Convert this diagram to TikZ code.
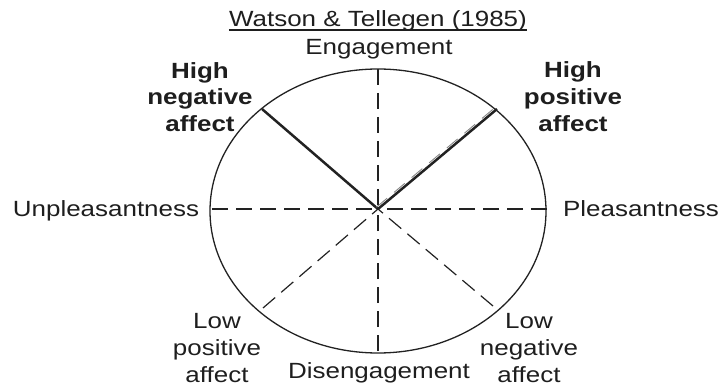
\documentclass[tikz,border=0pt]{standalone}
\usepackage{fontspec}
\setmainfont{Liberation Sans}[FakeStretch=1.18]
\definecolor{txt}{HTML}{1E1E1E}
\definecolor{ln}{HTML}{222222}
\begin{document}
\begin{tikzpicture}[x=1pt,y=-1pt,
  lbl/.style={inner sep=0pt, anchor=base, text=txt, font=\fontsize{22}{26}\selectfont},
  blbl/.style={lbl, font=\fontsize{22}{26}\selectfont\bfseries},
  axis/.style={draw=ln, line width=1.2pt, dash pattern=on 16pt off 8pt},
  solidax/.style={draw=ln, line width=2.5pt},
  rim/.style={draw=ln, line width=1.3pt}]
\useasboundingbox (0,0) rectangle (720,390);
% geometry
\coordinate (o) at (378,211);
\coordinate (c) at (378,209);
\coordinate (top) at (378,69);
\coordinate (bot) at (378,351);
\coordinate (lft) at (212,209);
\coordinate (rgt) at (547,209);
\coordinate (hn) at (262,109);
\coordinate (hp) at (497,109);
\coordinate (lp) at (263,308);
\coordinate (ln) at (493,306);
% ellipse
\draw[rim] (o) ellipse [x radius=168, y radius=142];
% dashed axes
\draw[axis] (top) -- (c);
\draw[axis] (bot) -- (c);
\draw[axis] (lft) -- (c);
\draw[axis] (rgt) -- (c);
\draw[axis] (lp) -- (c);
\draw[axis] (ln) -- (c);
% solid axes
\draw[solidax] (c) -- (hn);
\draw[solidax] (c) -- (hp);
\draw[draw=ln!55, line width=0.9pt, dash pattern=on 14pt off 9pt] ([shift={(-1.6pt,1.8pt)}]c) -- ([shift={(-1.6pt,1.8pt)}]hp);
% title
\node[lbl] (title) at (378,27) {Watson \& Tellegen (1985)};
\draw[draw=txt, line width=1.1pt] ([yshift=-3pt]title.base west) -- ([yshift=-3pt]title.base east);
% labels
\node[lbl] (eng) at (379,55) {Engagement};
\node[lbl] (dis) at (379,378) {Disengagement};
\node[lbl] (unp) at (106,216) {Unpleasantness};
\node[lbl] (ple) at (641,217) {Pleasantness};
\node[blbl] (hn1) at (200,79) {High};
\node[blbl] (hn2) at (200,105) {negative};
\node[blbl] (hn3) at (200,132) {affect};
\node[blbl] (hp1) at (573,78) {High};
\node[blbl] (hp2) at (573,105) {positive};
\node[blbl] (hp3) at (573,132) {affect};
\node[lbl] (lp1) at (217,328) {Low};
\node[lbl] (lp2) at (217,355) {positive};
\node[lbl] (lp3) at (217,382) {affect};
\node[lbl] (ln1) at (529,328) {Low};
\node[lbl] (ln2) at (529,355) {negative};
\node[lbl] (ln3) at (529,382) {affect};
\end{tikzpicture}
\end{document}
